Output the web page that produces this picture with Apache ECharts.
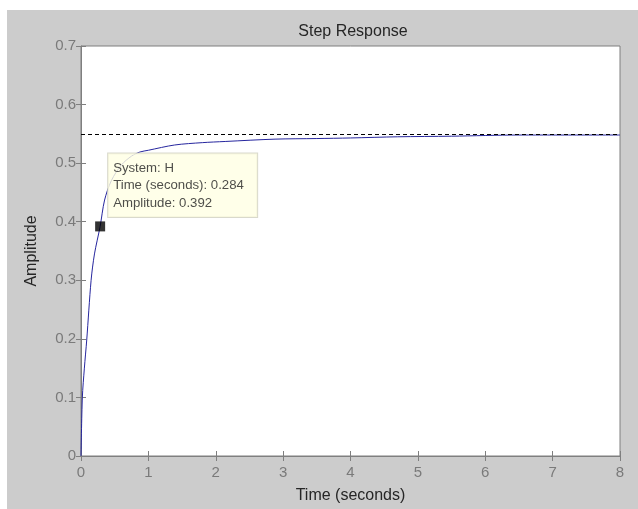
<!DOCTYPE html>
<html>
<head>
<meta charset="utf-8">
<script src="https://cdn.jsdelivr.net/npm/echarts@6/dist/echarts.min.js"></script>
<style>
  html, body { margin: 0; padding: 0; background: #fff; }
  #chart { position: absolute; left: 7px; top: 10px; width: 631px; height: 499px; }
</style>
</head>
<body>
<div id="chart"></div>
<script>
// step response: time (s) and amplitude
const timeValues = [0, 0.02, 0.05, 0.085, 0.15, 0.2, 0.284, 0.35, 0.45, 0.6, 0.75, 0.875, 1.0, 1.39, 1.8, 2.14, 2.88, 3.5, 4.0, 4.7, 5.5, 6.5, 8.0];
const amplitudeValues = [0, 0.10, 0.15, 0.198, 0.30, 0.345, 0.392, 0.437, 0.47, 0.497, 0.512, 0.519, 0.522, 0.531, 0.535, 0.537, 0.541, 0.542, 0.543, 0.545, 0.546, 0.548, 0.548];
const finalValue = 0.548;
const tipPoint = [0.284, 0.392];
const tipLines = ["System: H", "Time (seconds): 0.284", "Amplitude: 0.392"];

const font = "'Liberation Sans', Arial, sans-serif";
const axisGray = "#7f7f7f";
const labelGray = "#7a7a7a";

let myChart = echarts.init(document.getElementById("chart"));

const stepData = timeValues.map((t, i) => [t, amplitudeValues[i]]);

const option = {
  backgroundColor: "#cccccc",
  animation: false,
  title: {
    text: "Step Response",
    left: 341,
    top: 9,
    textAlign: "center",
    textStyle: { fontFamily: font, fontSize: 16, fontWeight: "normal", color: "#262626" },
  },
  grid: {
    left: 74,
    right: 18,
    top: 36,
    bottom: 53,
    show: true,
    backgroundColor: "#fff",
    borderColor: axisGray,
    borderWidth: 1,
  },
  xAxis: [
    {
      type: "value",
      min: 0,
      max: 8,
      interval: 1,
      name: "Time (seconds)",
      nameLocation: "middle",
      nameGap: 32,
      nameTextStyle: { fontFamily: font, fontSize: 16, color: "#262626" },
      axisLine: { show: true, lineStyle: { color: axisGray } },
      axisTick: { show: true, inside: true, length: 5, lineStyle: { color: axisGray } },
      axisLabel: { fontFamily: font, fontSize: 15, color: labelGray, margin: 9 },
      splitLine: { show: false },
    },
    {
      type: "value",
      position: "top",
      min: 0,
      max: 8,
      interval: 1,
      axisLine: { show: false },
      axisTick: { show: true, inside: true, length: 5, lineStyle: { color: axisGray } },
      axisLabel: { show: false },
      splitLine: { show: false },
    },
  ],
  yAxis: [
    {
      type: "value",
      min: 0,
      max: 0.7,
      interval: 0.1,
      name: "Amplitude",
      nameLocation: "middle",
      nameGap: 41,
      nameTextStyle: { fontFamily: font, fontSize: 16, color: "#262626" },
      axisLine: { show: true, lineStyle: { color: axisGray } },
      axisTick: { show: true, inside: true, length: 5, lineStyle: { color: axisGray } },
      axisLabel: { fontFamily: font, fontSize: 15, color: labelGray, margin: 5 },
      splitLine: { show: false },
    },
    {
      type: "value",
      position: "right",
      min: 0,
      max: 0.7,
      interval: 0.1,
      axisLine: { show: false },
      axisTick: { show: true, inside: true, length: 5, lineStyle: { color: axisGray } },
      axisLabel: { show: false },
      splitLine: { show: false },
    },
  ],
  series: [
    {
      name: "H",
      type: "line",
      data: stepData,
      showSymbol: false,
      smooth: 0.3,
      lineStyle: { color: "#26269e", width: 1 },
      markLine: {
        silent: true,
        symbol: "none",
        label: { show: false },
        lineStyle: { color: "#000", type: [4, 3], width: 1 },
        data: [{ yAxis: finalValue }],
      },
      z: 2,
    },
    {
      name: "datatip",
      type: "scatter",
      data: [tipPoint],
      symbol: "rect",
      symbolSize: 10,
      itemStyle: { color: "#000" },
      label: {
        show: true,
        position: [13, -68],
        formatter: () => tipLines.join("\n"),
        fontFamily: font,
        fontSize: 13.2,
        lineHeight: 17.5,
        color: "#222",
        backgroundColor: "#ffffe4",
        borderColor: "#cfcfbf",
        borderWidth: 1,
        padding: [6, 5, 5, 5],
        width: 139,
      },
      z: 5,
    },
  ],
};

myChart.setOption(option);
</script>
</body>
</html>
